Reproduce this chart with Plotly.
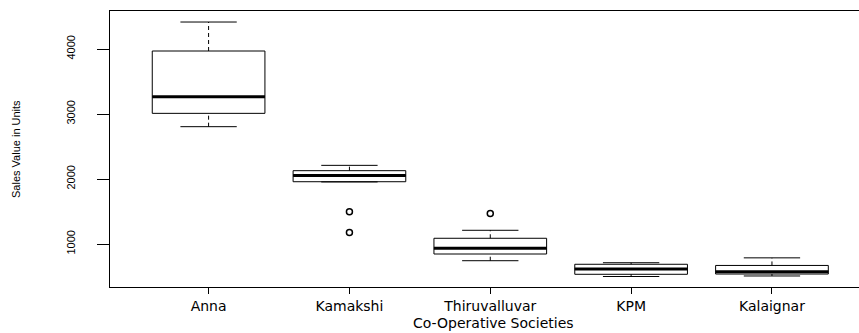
import plotly.graph_objects as go

societies = ["Anna", "Kamakshi", "Thiruvalluvar", "KPM", "Kalaignar"]
lower_whisker = [2805, 1955, 743, 500, 508]
q1 = [3010, 1958, 846, 534, 538]
median = [3266, 2055, 934, 617, 575]
q3 = [3969, 2128, 1088, 688, 670]
upper_whisker = [4415, 2210, 1211, 712, 787]
outlier_society = ["Kamakshi", "Kamakshi", "Thiruvalluvar"]
outlier_values = [1497, 1178, 1470]
y_ticks = [1000, 2000, 3000, 4000]

pos = list(range(1, len(societies) + 1))
pos_of = {s: p for s, p in zip(societies, pos)}
BOXW = 0.8
CAPW = 0.4

fig = go.Figure()

# dashed whiskers
wx, wy = [], []
for p, lo, a, b, hi in zip(pos, lower_whisker, q1, q3, upper_whisker):
    wx += [p, p, None, p, p, None]
    wy += [lo, a, None, b, hi, None]
fig.add_trace(go.Scatter(x=wx, y=wy, mode="lines",
                         line=dict(color="black", width=1, dash="4px,3px"),
                         hoverinfo="skip", showlegend=False))
# staples
cx, cy = [], []
for p, lo, hi in zip(pos, lower_whisker, upper_whisker):
    cx += [p - CAPW / 2, p + CAPW / 2, None, p - CAPW / 2, p + CAPW / 2, None]
    cy += [lo, lo, None, hi, hi, None]
fig.add_trace(go.Scatter(x=cx, y=cy, mode="lines",
                         line=dict(color="black", width=1),
                         hoverinfo="skip", showlegend=False))

# boxes
fig.add_trace(go.Box(x=pos, q1=q1, median=median, q3=q3,
                     lowerfence=q1, upperfence=q3,
                     width=BOXW, fillcolor="white",
                     line=dict(color="black", width=1),
                     boxpoints=False, showlegend=False, whiskerwidth=0))

# thick medians
mx, my = [], []
for p, m in zip(pos, median):
    mx += [p - BOXW / 2, p + BOXW / 2, None]
    my += [m, m, None]
fig.add_trace(go.Scatter(x=mx, y=my, mode="lines",
                         line=dict(color="black", width=3),
                         hoverinfo="skip", showlegend=False))

# outliers
fig.add_trace(go.Scatter(x=[pos_of[s] for s in outlier_society], y=outlier_values,
                         mode="markers",
                         marker=dict(symbol="circle-open", size=6,
                                     color="black", line=dict(width=1.5)),
                         showlegend=False))

xfont = dict(family="DejaVu Sans, Arial, sans-serif", size=14, color="black")
yfont = dict(family="Liberation Sans Narrow, Liberation Sans, Arial, sans-serif",
             size=11, color="black")

fig.update_layout(
    width=859, height=333,
    margin=dict(l=110, r=0, t=11, b=46, autoexpand=False),
    plot_bgcolor="white", paper_bgcolor="white",
    xaxis=dict(range=[0.3, 5.618], tickvals=pos, ticktext=societies,
               showgrid=False, zeroline=False,
               showline=True, mirror=True, linecolor="black", linewidth=1,
               ticks="outside", ticklen=6, tickcolor="black", tickwidth=1,
               tickfont=xfont, automargin=False),
    yaxis=dict(range=[338.5, 4584.6], tickvals=y_ticks,
               ticktext=[str(v) for v in y_ticks],
               showgrid=False, zeroline=False,
               showline=True, linecolor="black", linewidth=1,
               ticks="outside", ticklen=12, tickcolor="black", tickwidth=1,
               tickangle=-90, tickfont=yfont, ticklabelstandoff=18,
               automargin=False),
    annotations=[
        dict(text="Co-Operative Societies", xref="paper", yref="paper",
             x=(493 - 110) / 749, y=-(323 - 287) / 276, showarrow=False,
             xanchor="center", yanchor="middle", font=xfont),
        dict(text="Sales Value in Units", xref="paper", yref="paper",
             x=-(110 - 16) / 749, y=(287 - 149) / 276, showarrow=False,
             textangle=-90, xanchor="center", yanchor="middle", font=yfont),
    ],
)

fig.write_html("out.html",
               config={"displayModeBar": False},
               post_script="document.body.style.margin='0';"
                           "document.body.style.overflow='hidden';")
